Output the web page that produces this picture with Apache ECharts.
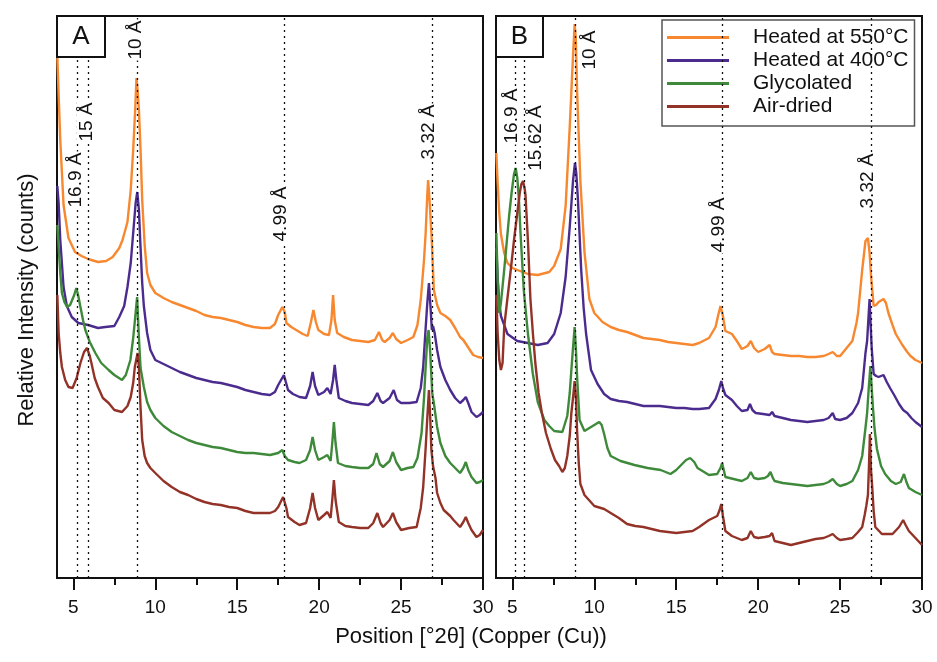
<!DOCTYPE html>
<html>
<head>
<meta charset="utf-8">
<script src="https://cdn.jsdelivr.net/npm/echarts@6.0.0/dist/echarts.min.js"></script>
<style>html,body{margin:0;padding:0;background:#fff;}#c{width:937px;height:662px;}</style>
</head>
<body>
<div id="c"></div>
<script>
// ---------- DATA (2θ in degrees, relative counts) ----------
const seriesNames = ['Heated at 550°C', 'Heated at 400°C', 'Glycolated', 'Air-dried'];
const majorTicks = [5, 10, 15, 20, 25, 30];
const minorTicks = [7.5, 12.5, 17.5, 22.5, 27.5];

// Panel A
const aOrange = [[4.02,521],[4.1,483],[4.2,438],[4.4,373],[4.7,340],[5.1,326],[5.5,322],[5.9,319],[6.5,316],[7.0,317],[7.4,321],[7.8,330],[8.0,338],[8.3,356],[8.5,388],[8.65,428],[8.78,471],[8.85,500],[8.92,488],[9.0,468],[9.1,428],[9.2,378],[9.35,333],[9.5,305],[9.7,293],[10,285],[10.5,280],[11,276],[11.5,273],[12,270],[12.5,267],[13,263],[13.5,261],[14,260],[14.5,258],[15,256],[15.5,253],[16,251],[16.5,250],[17,250],[17.3,254],[17.5,263],[17.75,271],[17.9,266],[18,255],[18.3,251],[18.6,248],[19,244],[19.3,242],[19.5,256],[19.65,268],[19.8,256],[19.95,248],[20.3,244],[20.6,243],[20.75,258],[20.85,283],[20.95,258],[21.1,245],[21.5,241],[22,238],[22.5,237],[23,236],[23.4,238],[23.65,246],[23.85,238],[24,236],[24.3,240],[24.5,245],[24.7,239],[25,235],[25.4,238],[25.75,241],[26.0,253],[26.2,278],[26.4,318],[26.5,345],[26.6,383],[26.65,398],[26.72,383],[26.85,345],[26.95,308],[27.0,288],[27.2,273],[27.4,265],[27.7,262],[28,258],[28.3,250],[28.6,241],[28.8,238],[29,233],[29.2,228],[29.4,223],[29.7,221],[30,220]];
const aPurple = [[4.02,392],[4.1,375],[4.2,338],[4.4,291],[4.6,272],[4.9,261],[5.3,255],[5.9,253],[6.5,250],[6.95,251],[7.5,252],[7.8,261],[8.1,272],[8.3,291],[8.5,315],[8.7,355],[8.8,375],[8.9,386],[9.0,368],[9.1,330],[9.2,295],[9.3,272],[9.5,245],[9.7,228],[10,218],[10.5,214],[11,210],[11.5,206],[12,203],[12.5,200],[13,198],[13.5,196],[14,195],[14.5,193],[15,191],[15.5,188],[16,186],[16.5,184],[17,183],[17.3,186],[17.5,193],[17.85,203],[18.1,188],[18.4,184],[18.8,181],[19.2,180],[19.45,192],[19.6,206],[19.75,192],[19.95,183],[20.3,186],[20.5,190],[20.7,184],[20.85,198],[20.95,213],[21.05,198],[21.2,180],[21.6,177],[22,175],[22.5,174],[23,173],[23.3,177],[23.55,185],[23.75,177],[23.9,175],[24.3,180],[24.55,188],[24.75,178],[25,175],[25.5,175],[25.95,176],[26.2,190],[26.35,211],[26.5,250],[26.6,275],[26.7,295],[26.8,270],[26.88,248],[26.95,252],[27.05,245],[27.2,228],[27.4,211],[27.7,198],[28,188],[28.3,180],[28.6,175],[28.8,178],[28.95,181],[29.1,175],[29.3,166],[29.6,161],[29.8,163],[30,166]];
const aGreen = [[4.02,353],[4.1,331],[4.2,305],[4.3,285],[4.45,276],[4.62,271],[4.8,273],[4.92,275],[5.05,283],[5.18,290],[5.3,282],[5.43,271],[5.6,257],[5.73,248],[6.0,236],[6.34,225],[6.7,215],[7.15,208],[7.5,203],[7.97,198],[8.2,203],[8.48,218],[8.65,240],[8.74,255],[8.89,281],[9.0,240],[9.1,210],[9.3,191],[9.5,176],[9.7,168],[10,160],[10.5,152],[11,146],[11.5,142],[12,138],[12.5,135],[13,133],[13.5,131],[14,130],[14.5,128],[15,126],[15.5,125],[16,125],[16.5,124],[17,123],[17.5,125],[17.75,128],[17.9,122],[18.1,118],[18.5,116],[18.8,115],[19.2,118],[19.45,128],[19.6,141],[19.75,128],[19.95,118],[20.3,121],[20.5,123],[20.7,117],[20.8,135],[20.9,156],[21.0,135],[21.15,115],[21.6,112],[22,111],[22.5,110],[23,110],[23.3,114],[23.5,125],[23.7,114],[23.9,111],[24.3,117],[24.5,126],[24.7,116],[25,108],[25.4,110],[25.75,111],[26.0,120],[26.25,145],[26.4,180],[26.5,211],[26.6,240],[26.68,248],[26.78,225],[26.9,185],[27.0,175],[27.2,151],[27.4,135],[27.7,122],[28,115],[28.3,110],[28.6,105],[28.8,110],[28.95,116],[29.1,108],[29.3,101],[29.6,95],[29.8,96],[30,98]];
const aRed = [[4.02,283],[4.1,245],[4.2,225],[4.3,211],[4.5,198],[4.7,191],[4.95,190],[5.2,200],[5.43,215],[5.65,226],[5.83,230],[6.0,222],[6.1,215],[6.3,200],[6.5,191],[6.8,180],[7.15,175],[7.5,168],[7.97,166],[8.3,172],[8.5,181],[8.65,195],[8.75,211],[8.92,225],[9.0,210],[9.1,170],[9.2,138],[9.35,122],[9.5,115],[9.7,110],[10,105],[10.5,97],[11,91],[11.5,86],[12,83],[12.5,79],[13,76],[13.5,74],[14,73],[14.5,71],[15,70],[15.5,67],[16,65],[16.5,65],[17,65],[17.3,67],[17.5,71],[17.8,81],[18.0,70],[18.1,61],[18.5,56],[18.8,53],[19.2,55],[19.45,70],[19.6,85],[19.75,70],[19.95,58],[20.3,63],[20.5,66],[20.7,60],[20.8,78],[20.9,98],[21.0,78],[21.2,56],[21.6,52],[22,51],[22.5,50],[23,50],[23.3,55],[23.55,65],[23.75,55],[23.9,51],[24.3,58],[24.5,65],[24.7,56],[25,48],[25.5,50],[25.95,51],[26.2,70],[26.35,91],[26.5,130],[26.6,160],[26.7,188],[26.78,160],[26.85,128],[26.95,112],[27.0,111],[27.1,100],[27.2,85],[27.4,75],[27.6,68],[28,62],[28.2,58],[28.6,51],[28.8,56],[28.95,61],[29.1,55],[29.3,48],[29.6,41],[29.8,43],[30,48]];

// Panel B
const bOrange = [[4.02,425],[4.1,395],[4.2,365],[4.3,344],[4.5,325],[4.7,315],[5.0,310],[5.3,308],[5.95,304],[6.55,303],[7.25,306],[7.55,312],[7.95,329],[8.25,372],[8.5,451],[8.7,522],[8.8,554],[8.87,540],[8.95,487],[9.15,397],[9.4,326],[9.7,279],[10,265],[10.5,256],[11,251],[11.5,248],[12,246],[12.5,243],[13,240],[13.5,239],[14,238],[14.5,236],[15,235],[15.5,234],[16,233],[16.4,235],[17,240],[17.4,251],[17.55,262],[17.7,272],[17.85,262],[18,247],[18.4,244],[18.7,237],[19,229],[19.35,232],[19.55,237],[19.75,230],[20,226],[20.4,229],[20.7,233],[20.85,226],[21,224],[21.5,223],[22,222],[22.5,222],[23,221],[23.5,221],[24,222],[24.3,224],[24.55,226],[24.8,222],[25,222],[25.4,230],[25.75,237],[26.0,255],[26.1,265],[26.35,308],[26.55,337],[26.7,340],[26.8,325],[26.9,300],[27.05,272],[27.2,273],[27.35,276],[27.65,279],[27.8,275],[27.95,265],[28.2,253],[28.4,244],[28.8,233],[29.1,226],[29.3,222],[29.6,218],[30,215]];
const bPurple = [[4.02,330],[4.1,300],[4.2,275],[4.3,262],[4.7,244],[5.3,237],[5.95,235],[6.55,233],[7.15,235],[7.55,244],[7.95,265],[8.25,301],[8.5,351],[8.7,397],[8.82,415],[8.9,405],[9.0,379],[9.2,308],[9.35,270],[9.5,244],[9.8,208],[10.2,194],[10.6,184],[11,179],[11.5,177],[12,176],[12.5,174],[13,172],[13.5,172],[14,172],[14.5,171],[15,170],[15.5,170],[16,169],[16.4,169],[17,170],[17.4,179],[17.6,188],[17.75,197],[17.85,190],[18,183],[18.4,178],[18.7,172],[19,167],[19.35,168],[19.5,174],[19.65,168],[19.85,165],[20.3,164],[20.7,163],[20.85,166],[21,162],[21.5,160],[22,158],[22.5,157],[23,156],[23.5,157],[24,158],[24.3,160],[24.55,165],[24.7,159],[25,158],[25.4,160],[25.75,165],[26.1,175],[26.35,190],[26.55,225],[26.65,237],[26.75,265],[26.8,279],[26.86,255],[26.93,230],[27.05,204],[27.2,202],[27.35,201],[27.65,203],[27.85,196],[28.05,190],[28.3,183],[28.6,174],[28.85,168],[29.1,165],[29.35,160],[29.6,156],[30,151]];
const bGreen = [[4.02,345],[4.1,300],[4.2,265],[4.3,275],[4.5,308],[4.65,335],[4.8,362],[4.95,385],[5.1,404],[5.2,410],[5.3,400],[5.4,378],[5.5,344],[5.6,315],[5.7,287],[5.95,244],[6.25,204],[6.55,176],[6.95,158],[7.25,152],[7.55,147],[8.05,146],[8.35,162],[8.5,185],[8.6,208],[8.7,230],[8.8,251],[8.88,228],[8.95,201],[9.1,158],[9.4,147],[9.8,151],[10.1,154],[10.3,156],[10.45,153],[10.6,144],[10.8,130],[11,122],[11.6,117],[12.45,113],[13.25,110],[14.05,108],[14.65,104],[15.0,108],[15.3,113],[15.6,118],[15.85,120],[16.1,116],[16.3,110],[17,103],[17.5,104],[17.7,110],[17.8,115],[17.9,108],[18,101],[18.5,99],[19,97],[19.35,100],[19.55,106],[19.75,100],[20,99],[20.4,100],[20.6,102],[20.75,106],[20.9,100],[21,97],[21.5,95],[22,94],[22.5,93],[23,92],[23.5,93],[24,94],[24.3,96],[24.55,99],[24.8,94],[25,92],[25.4,94],[25.75,97],[26.1,108],[26.35,122],[26.55,150],[26.65,165],[26.75,190],[26.85,212],[26.93,190],[27.0,172],[27.1,150],[27.25,129],[27.5,112],[27.75,104],[28.1,97],[28.4,94],[28.7,96],[28.9,104],[29.05,96],[29.2,90],[29.6,86],[30,83]];
const bRed = [[4.02,283],[4.1,245],[4.2,218],[4.3,208],[4.4,215],[4.5,251],[4.7,280],[4.9,308],[5.1,338],[5.3,365],[5.45,385],[5.55,394],[5.65,397],[5.75,389],[5.8,383],[5.95,337],[6.1,279],[6.25,245],[6.4,215],[6.6,185],[6.8,165],[7.05,145],[7.35,129],[7.6,118],[7.85,112],[8.05,106],[8.2,110],[8.35,122],[8.5,142],[8.6,165],[8.7,180],[8.8,197],[8.88,180],[8.95,147],[9.05,115],[9.15,94],[9.4,83],[10,72],[10.6,69],[11,65],[11.5,60],[12,54],[12.5,52],[13,51],[13.5,49],[14,47],[14.5,46],[15,45],[15.5,46],[16,47],[16.4,51],[17,58],[17.5,62],[17.65,68],[17.75,74],[17.85,62],[18,47],[18.4,42],[19,38],[19.35,40],[19.55,47],[19.75,41],[20,40],[20.4,41],[20.7,42],[20.85,45],[21,37],[21.5,35],[22,33],[22.5,35],[23,37],[23.5,39],[24,40],[24.3,42],[24.55,44],[24.8,40],[25,38],[25.4,39],[25.75,40],[26.1,46],[26.35,51],[26.5,63],[26.6,72],[26.7,83],[26.76,110],[26.82,144],[26.88,110],[26.95,94],[27.05,67],[27.15,51],[27.55,44],[28.2,44],[28.6,51],[28.85,58],[29.0,53],[29.2,47],[29.6,40],[30,33]];

// d-spacing reference lines (2θ) and their labels [x, y, text]
const refLinesA = [5.21, 5.88, 8.90, 17.85, 26.89];
const refLabelsA = [[5.12, 398, '16.9 Å'], [5.79, 456, '15 Å'], [8.78, 538, '10 Å'], [17.68, 364, '4.99 Å'], [26.71, 446, '3.32 Å']];
const refLinesB = [5.20, 5.75, 8.85, 17.80, 26.93];
const refLabelsB = [[4.94, 462, '16.9 Å'], [6.40, 440, '15.62 Å'], [9.70, 528, '10 Å'], [17.62, 353, '4.99 Å'], [26.71, 397, '3.32 Å']];

// ---------- CHART ----------
const colors = ['#F7882F', '#4B2C8E', '#3E8A3A', '#933328'];
const FONT = "'Liberation Sans', Arial, Helvetica, sans-serif";
const INK = '#111';
const chart = echarts.init(document.getElementById('c'), null, {renderer: 'canvas'});

const gridRects = [
  {left: 57, top: 16, width: 426, height: 562},
  {left: 496, top: 16, width: 426, height: 562}
];
const grids = [];
gridRects.forEach(r => grids.push(Object.assign({show: true, borderColor: INK, borderWidth: 2, backgroundColor: 'transparent'}, r)));
gridRects.forEach(r => grids.push(Object.assign({show: false}, r)));

const xAxes = [], yAxes = [];
for (let i = 0; i < 2; i++) {
  xAxes.push({
    type: 'value', gridIndex: i, min: 4, max: 30,
    axisLine: {show: true, onZero: false, lineStyle: {color: INK, width: 2}},
    axisTick: {show: true, customValues: majorTicks, length: 12, lineStyle: {color: INK, width: 2}},
    axisLabel: {show: true, customValues: majorTicks, margin: 20, fontSize: 19, color: INK, fontFamily: FONT},
    splitLine: {show: false}
  });
  yAxes.push({type: 'value', gridIndex: i, min: 0, max: 562, show: false});
}
for (let i = 0; i < 2; i++) {
  xAxes.push({
    type: 'value', gridIndex: i + 2, min: 4, max: 30,
    axisLine: {show: false},
    axisTick: {show: true, customValues: minorTicks, length: 7, lineStyle: {color: INK, width: 2}},
    axisLabel: {show: false},
    splitLine: {show: false}
  });
  yAxes.push({type: 'value', gridIndex: i + 2, min: 0, max: 562, show: false});
}

const series = [];
const panelData = [[aOrange, aPurple, aGreen, aRed], [bOrange, bPurple, bGreen, bRed]];
panelData.forEach((arr, p) => {
  arr.forEach((d, k) => {
    series.push({
      type: 'line', name: seriesNames[k], xAxisIndex: p, yAxisIndex: p,
      data: d, symbol: 'none', showSymbol: false, smooth: false,
      lineStyle: {color: colors[k], width: 2.4}, itemStyle: {color: colors[k]},
      z: 3, animation: false
    });
  });
});

[[refLinesA, refLabelsA], [refLinesB, refLabelsB]].forEach((pair, p) => {
  series.push({
    type: 'scatter', xAxisIndex: p, yAxisIndex: p, symbolSize: 0, z: 5,
    data: pair[1],
    itemStyle: {opacity: 1},
    label: {
      show: true, position: 'inside', rotate: 90,
      formatter: prm => prm.data[2],
      fontSize: 19, color: INK, opacity: 1, fontFamily: FONT,
      backgroundColor: '#fff', padding: [0, 1]
    },
    markLine: {
      silent: true, symbol: 'none', animation: false,
      label: {show: false},
      lineStyle: {type: [2, 4], color: INK, width: 1.3, opacity: 1},
      data: pair[0].map(v => ({xAxis: v}))
    },
    animation: false
  });
});

chart.setOption({
  animation: false,
  backgroundColor: '#fff',
  textStyle: {fontFamily: FONT},
  grid: grids,
  xAxis: xAxes,
  yAxis: yAxes,
  legend: {
    data: seriesNames.map(n => ({name: n, icon: 'rect'})),
    orient: 'vertical', left: 662, top: 20,
    itemWidth: 62, itemHeight: 3, itemGap: 2,
    padding: [7, 6, 9, 5],
    backgroundColor: '#fff', borderColor: '#555', borderWidth: 1.5,
    textStyle: {fontSize: 21, color: INK, fontFamily: FONT, lineHeight: 21, padding: [0, 0, 0, 19]},
    selectedMode: false
  },
  series: series,
  graphic: [
    {type: 'rect', z: 100, shape: {x: 57, y: 16, width: 48, height: 41}, style: {fill: '#fff', stroke: INK, lineWidth: 2}},
    {type: 'text', z: 101, x: 81, y: 37, style: {text: 'A', fontSize: 26, fontFamily: FONT, fill: INK, textAlign: 'center', textVerticalAlign: 'middle'}},
    {type: 'rect', z: 100, shape: {x: 496, y: 16, width: 47, height: 41}, style: {fill: '#fff', stroke: INK, lineWidth: 2}},
    {type: 'text', z: 101, x: 519.5, y: 37, style: {text: 'B', fontSize: 26, fontFamily: FONT, fill: INK, textAlign: 'center', textVerticalAlign: 'middle'}},
    {type: 'text', z: 101, x: 471, y: 637, style: {text: 'Position [°2θ] (Copper (Cu))', fontSize: 22, fontFamily: FONT, fill: INK, textAlign: 'center', textVerticalAlign: 'middle'}},
    {type: 'text', z: 101, x: 27, y: 300, rotation: Math.PI / 2, style: {text: 'Relative Intensity (counts)', fontSize: 22, fontFamily: FONT, fill: INK, textAlign: 'center', textVerticalAlign: 'middle'}}
  ]
});
</script>
</body>
</html>
